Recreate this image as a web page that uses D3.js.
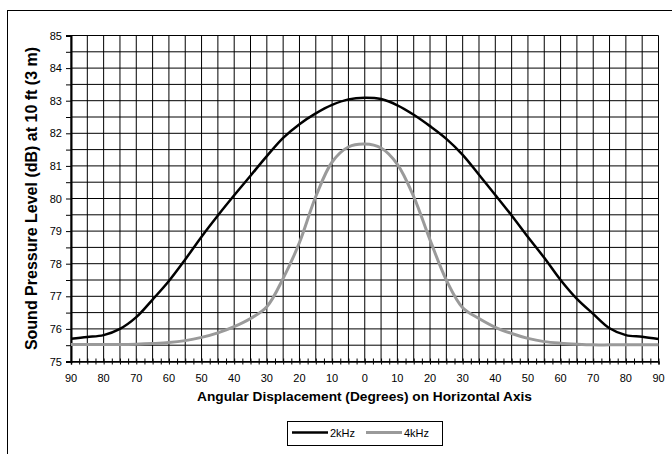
<!DOCTYPE html>
<html><head><meta charset="utf-8">
<script src="https://cdn.jsdelivr.net/npm/d3@7"></script>
<style>body{margin:0;background:#fff}svg{display:block}text{font-family:"Liberation Sans",Arial,sans-serif}</style>
</head><body>
<script>
const angles = [-90,-85,-80,-75,-70,-65,-60,-55,-50,-45,-40,-35,-30,-25,-20,-15,-10,-5,0,5,10,15,20,25,30,35,40,45,50,55,60,65,70,75,80,85,90];
const spl2k = [75.70,75.75,75.81,76.00,76.36,76.90,77.47,78.13,78.83,79.48,80.10,80.70,81.30,81.86,82.28,82.61,82.87,83.04,83.09,83.05,82.86,82.57,82.22,81.83,81.34,80.73,80.11,79.48,78.82,78.18,77.50,76.92,76.46,76.02,75.81,75.76,75.69];
const spl4k = [75.52,75.52,75.52,75.52,75.53,75.55,75.58,75.64,75.74,75.88,76.07,76.32,76.68,77.55,78.65,80.06,81.12,81.58,81.67,81.55,81.05,80.06,78.73,77.50,76.65,76.32,76.05,75.86,75.71,75.61,75.56,75.53,75.51,75.51,75.51,75.51,75.51];
const xTicks = [-90,-80,-70,-60,-50,-40,-30,-20,-10,0,10,20,30,40,50,60,70,80,90];
const yTicks = [75,76,77,78,79,80,81,82,83,84,85];
const seriesNames = ["2kHz","4kHz"];
const seriesColors = ["#000000","#9a9a9a"];

const W=672,H=454;
const svg=d3.select("body").append("svg").attr("width",W).attr("height",H);
// outer border
svg.append("rect").attr("x",7.5).attr("y",10.5).attr("width",700).attr("height",500).attr("fill","none").attr("stroke","#000").attr("stroke-width",1);

const x=d3.scaleLinear().domain([-90,90]).range([71,658.5]);
const y=d3.scaleLinear().domain([75,85]).range([361.5,35.5]);

// grid
const g=svg.append("g");
const xGrid=d3.range(-90,90.01,5), yGrid=d3.range(75,85.01,0.5);
g.selectAll("line.vg").data(xGrid).enter().append("line")
 .attr("x1",d=>x(d)).attr("x2",d=>x(d)).attr("y1",y(85)).attr("y2",y(75)).attr("stroke","#000").attr("stroke-width",1);
g.selectAll("line.hg").data(yGrid).enter().append("line")
 .attr("y1",d=>y(d)).attr("y2",d=>y(d)).attr("x1",x(-90)).attr("x2",x(90)).attr("stroke","#000").attr("stroke-width",1);

// axes
const xAxis=d3.axisBottom(x).tickValues(d3.range(-90,90.01,2.5)).tickSize(3).tickFormat("");
const xa=svg.append("g").attr("transform",`translate(0,${y(75)})`).call(xAxis);
xa.select(".domain").attr("stroke-width",1.5);
xa.selectAll(".tick line").attr("y1",-3).attr("y2",3).attr("stroke-width",1);
svg.append("g").selectAll("text").data(xTicks).enter().append("text")
 .attr("x",d=>x(d)).attr("y",382).attr("text-anchor","middle").attr("font-size",11).attr("fill","#000")
 .text(d=>Math.abs(d));

const yAxis=d3.axisLeft(y).tickValues(yGrid).tickSize(5).tickFormat("");
const ya=svg.append("g").attr("transform",`translate(${x(-90)},0)`).call(yAxis);
ya.select(".domain").attr("stroke-width",2);
svg.append("g").selectAll("text").data(yTicks).enter().append("text")
 .attr("x",62).attr("y",d=>y(d)+4).attr("text-anchor","end").attr("font-size",11).attr("fill","#000")
 .text(d=>d);

// series
const line=d3.line().x(d=>x(d[0])).y(d=>y(d[1])).curve(d3.curveCatmullRom.alpha(0.5));
[spl2k,spl4k].forEach((s,i)=>{
  svg.append("path").datum(angles.map((a,j)=>[a,s[j]])).attr("d",line)
   .attr("fill","none").attr("stroke",seriesColors[i]).attr("stroke-width",i?3:2.5).attr("stroke-linejoin","round");
});

// titles
svg.append("text").attr("x",364.5).attr("y",401).attr("text-anchor","middle").attr("font-size",13.7).attr("font-weight","bold").text("Angular Displacement (Degrees) on Horizontal Axis");
svg.append("text").attr("transform",`translate(37,${(y(75)+y(85))/2}) rotate(-90)`).attr("text-anchor","middle").attr("font-size",16).attr("font-weight","bold").text("Sound Pressure Level (dB) at 10 ft (3 m)");

// legend
const lg=svg.append("g");
lg.append("rect").attr("x",287.5).attr("y",421.5).attr("width",155).attr("height",24).attr("fill","#fff").attr("stroke","#000");
const lx=[292,366];
seriesNames.forEach((n,i)=>{
  lg.append("line").attr("x1",lx[i]).attr("x2",lx[i]+36).attr("y1",432.5).attr("y2",432.5).attr("stroke",seriesColors[i]).attr("stroke-width",i?3:2.5);
  lg.append("text").attr("x",lx[i]+38).attr("y",437).attr("font-size",11).text(n);
});
</script>
</body></html>
